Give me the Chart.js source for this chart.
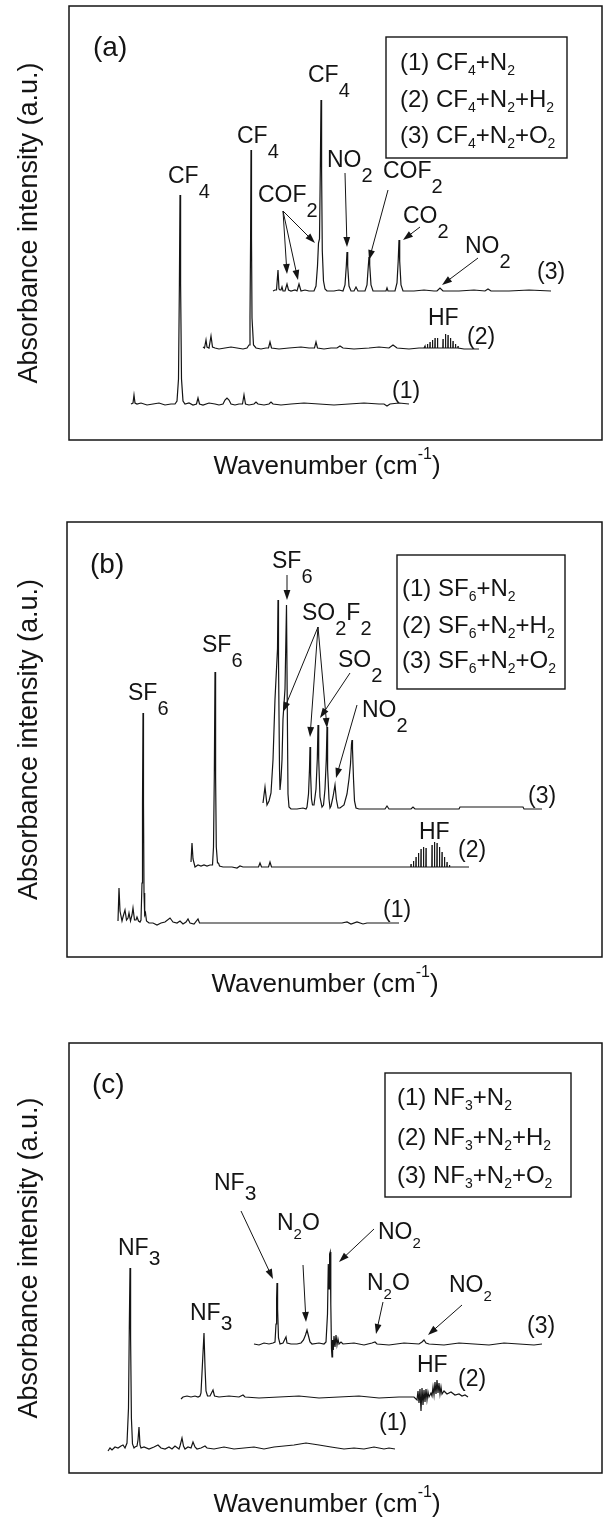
<!DOCTYPE html>
<html><head><meta charset="utf-8">
<script src="https://cdn.jsdelivr.net/npm/chart.js@4.4.1/dist/chart.umd.min.js"></script>
<style>
html,body{margin:0;padding:0;background:#fff;}
#wrap{position:relative;width:610px;height:1528px;background:#fff;}
canvas{position:absolute;left:0;}
</style></head><body>
<div id="wrap">
<canvas id="pa" width="610" height="500" style="top:0px;width:610px;height:500px"></canvas>
<canvas id="pb" width="610" height="510" style="top:500px;width:610px;height:510px"></canvas>
<canvas id="pc" width="610" height="518" style="top:1010px;width:610px;height:518px"></canvas>
</div>
<script>
// ===================== DATA (arbitrary units) =====================
// Panel (a) CF4 : spectra as [wavenumber a.u., absorbance a.u. above own baseline]
const specA1 = [[62,0],[64,1],[65,9],[66,1],[68,0],[72,1],[78,-1],[84,0],[90,1],[96,-1],[102,0],[106,0],[108,3],[109.5,25],[110.4,120],[111,209],[111.6,120],[112.5,25],[114,3],[116,0],[120,1],[124,-1],[127.5,0],[129,6],[130.5,0],[134,-1],[140,1],[146,0],[150,-1],[154,0],[156,4],[158,6],[160,4],[162,0],[166,-1],[170,0],[173.5,0],[175,9],[176.5,0],[180,-1],[185,0],[187,2],[189,0],[195,-1],[200,0],[202,2],[204,0],[212,-1],[222,0],[235,1],[250,0],[265,-1],[280,0],[295,1],[310,0],[315,0],[318,-2],[321,0],[330,1],[340,0]];
const specA2 = [[134,1],[135.5,0],[137,8],[138,1],[140,0],[142,12],[143.5,1],[146,0],[150,-1],[156,0],[162,1],[168,0],[174,-1],[178,0],[180,3],[181,30],[181.6,110],[182,198],[182.5,110],[183,30],[184.5,3],[187,0],[192,-1],[197,0],[199.5,0],[201,6],[202.5,0],[210,-1],[220,0],[232,1],[240,0],[245.5,0],[247,6],[248.5,0],[255,-1],[262,0],[268,0],[271,2],[274,0],[285,-1],[300,0],[310,1],[320,0],[324,3],[328,0],[340,-1],[350,0],[355,0],
 [355.8,0],[356,2],[356.2,0],[358.3,0],[358.5,4],[358.7,0],[360.8,0],[361,6],[361.2,0],[363.3,0],[363.5,8],[363.7,0],[365.8,0],[366,10],[366.2,0],[368.3,0],[368.5,10],[368.7,0],[372,0],
 [373.8,0],[374,9],[374.2,0],[376.3,0],[376.5,14],[376.7,0],[378.8,0],[379,13],[379.2,0],[381.3,0],[381.5,10],[381.7,0],[383.8,0],[384,7],[384.2,0],[386.3,0],[386.5,4],[386.7,0],[388.8,0],[389,2],[389.2,0],[395,-1],[410,-1]];
const specA3 = [[204,0],[206,1],[207.5,1],[209,21],[210,2],[211,1],[212,1],[213,4],[214,0],[216,0],[218,7],[219.5,1],[222,0],[226,1],[228,0],[230,7],[232,0],[236,1],[240,0],[245,0],[247,5],[248.5,25],[249.5,48],[250.5,52],[251.3,120],[252,191],[252.6,120],[253.3,40],[254.5,10],[256,2],[258,0],[265,0],[270,1],[274,0],[276,6],[277.3,25],[278,39],[278.7,25],[280,5],[282,0],[285,0],[287,4],[289,0],[293,0],[296,0],[298,6],[299.3,25],[300,34],[300.7,26],[302,6],[304,0],[310,0],[317,0],[318,3],[319,0],[323,0],[326,0],[328,8],[329.2,30],[330,51],[330.7,30],[332,6],[334,0],[345,0],[355,1],[365,0],[368,0],[371,3],[374,0],[390,0],[405,1],[416,0],[419,2],[422,0],[440,0],[460,1],[482,0]];
const baseA = [36, 92, 149];                 // vertical offsets of traces (1),(2),(3)
const legendA = ['(1) CF_4+N_2', '(2) CF_4+N_2+H_2', '(3) CF_4+N_2+O_2'];

// Panel (b) SF6
const specB1 = [[51,2],[52,35],[53,12],[55,2],[56,6],[58,13],[59.5,3],[61,5],[62,10],[63.5,2],[65,8],[66,15],[67.5,3],[69,3],[70,6],[71.5,2],[73,1],[74,3],[75,40],[75.5,120],[76,210],[76.5,120],[77,30],[77.7,8],[78.5,10],[79.5,2],[82,0],[86,0],[90,-2],[94,0],[98,1],[103,5],[106,1],[110,0],[113,2],[116,-1],[119,1],[121,4],[123,0],[127,-1],[131,4],[132.5,0],[140,0],[160,0],[200,0],[240,0],[275,0],[280,1],[284,-1],[290,1],[296,-1],[300,0],[332,0]];
const specB2 = [[124,5],[125,24],[126,8],[128,0],[131,2],[134,1],[137,2],[140,1],[143,2],[145.5,2],[146.5,20],[147.3,90],[148,195],[148.6,90],[149.3,20],[150.5,4],[151.5,4],[152.5,1],[156,0],[165,0],[170,-1],[173,1],[176,0],[185,0],[191.5,0],[193,4],[194.5,0],[201.5,0],[203,5],[204.5,0],[220,0],[260,0],[300,0],[340,0],
 [343.8,0],[344,3],[344.2,0],[346.3,0],[346.5,6],[346.7,0],[348.8,0],[349,10],[349.2,0],[351.3,0],[351.5,14],[351.7,0],[353.8,0],[354,18],[354.2,0],[356.3,0],[356.5,20],[356.7,0],[358.8,0],[359,19],[359.2,0],[362,0],
 [364.8,0],[365,22],[365.2,0],[367.3,0],[367.5,25],[367.7,0],[369.8,0],[370,24],[370.2,0],[372.3,0],[372.5,20],[372.7,0],[374.8,0],[375,15],[375.2,0],[377.3,0],[377.5,10],[377.7,0],[379.8,0],[380,5],[380.2,0],[382.3,0],[382.5,2],[382.7,0],[402,0]];
const specB3 = [[196,6],[198,22],[200,4],[202,8],[204,16],[206,49],[208,110],[210.5,160],[211,209],[211.5,150],[212.5,40],[213,19],[214,30],[215,49],[216,90],[218,120],[219.5,204],[220.3,100],[221,15],[222,2],[224,0],[230,0],[236,1],[239,0],[240,2],[241.5,15],[242.5,40],[243,62],[243.6,35],[244.5,10],[245.5,4],[247,4],[249,20],[250.3,50],[251,84],[251.7,50],[253,12],[255,2],[256.5,4],[258,20],[259.3,50],[260,82],[260.6,40],[262,10],[263,1],[264,3],[266,12],[268,24],[269.3,10],[271,1],[273,1],[277,4],[280,15],[282,30],[283.5,45],[284.5,65],[285,69],[285.5,60],[286.5,30],[287.5,8],[289,1],[292,0],[300,0],[318,0],[320,3],[322,0],[344,0],[346,2],[348,0],[370,0],[392,0],[393,2],[420,2],[440,2],[456,2],[457,0],[475,0]];
const baseB = [34, 90, 148];
const legendB = ['(1) SF_6+N_2', '(2) SF_6+N_2+H_2', '(3) SF_6+N_2+O_2'];

// Panel (c) NF3
const specC1 = [[39,-3],[41,0],[43,-2],[46,1],[49,0],[52,2],[54,3],[56,0],[58,5],[59.5,40],[60.3,120],[61,180],[61.6,110],[62.4,30],[63.5,4],[65,0],[66,1],[68,2],[69,8],[70,21],[71,3],[72,0],[75,1],[80,-1],[85,1],[89,3],[92,0],[96,-1],[100,1],[103,-1],[106,2],[110,-1],[111,2],[113,10],[114.5,2],[116,-1],[119,1],[122,0],[124,6],[126,1],[128,-1],[132,0],[136,2],[138,0],[145,-1],[155,1],[165,-1],[175,0],[185,1],[195,-1],[205,1],[215,2],[225,3],[237,5],[250,3],[262,1],[275,-1],[285,0],[295,-1],[305,1],[315,-1],[320,0],[326,-1]];
const specC2 = [[112,-2],[114,0],[118,1],[122,0],[126,1],[129,0],[131,1],[132,4],[133.3,30],[135,64],[136,30],[137,6],[138.5,1],[141,1],[144,7],[145.5,1],[150,0],[160,1],[170,0],[174,2],[176,0],[190,-1],[210,0],[230,1],[250,-1],[270,0],[290,1],[310,-1],[330,0],[345,0],[348,-3],[349,6],[350,-6],[351,8],[352,-14],[353,9],[354,-8],[355,7],[356,-5],[357,8],[358,-3],[359,5],[360,0],[362,4],[363,1],[364,10],[365,2],[366,15],[367,3],[368,17],[369,4],[370,14],[371,3],[372,10],[373,3],[375,6],[378,3],[382,5],[386,2],[390,3],[393,1],[396,2],[399,0]];
const specC3 = [[185,0],[190,-1],[195,1],[200,0],[204,1],[206,2],[207,20],[207.6,45],[208,61],[208.6,35],[209.5,6],[211,0],[214,1],[217,7],[218,1],[222,0],[228,0],[232,1],[234.5,4],[236.5,9],[238,14],[239.5,8],[241,2],[243,0],[250,1],[255,0],[257,2],[258.5,30],[259.3,80],[260,55],[260.6,90],[261.2,92],[261.8,40],[262.5,-5],[263,-13],[263.6,4],[264.3,-6],[265,8],[266,-3],[267,9],[268,-1],[269,5],[270,0],[272,2],[274,0],[285,1],[295,-1],[303,1],[306,2],[308,0],[320,-1],[335,1],[350,0],[353,2],[355,4],[357,1],[360,0],[375,-1],[390,1],[405,0],[420,-1],[435,1],[450,0],[465,-1],[473,0]];
const baseC = [25, 76, 129];
const legendC = ['(1) NF_3+N_2', '(2) NF_3+N_2+H_2', '(3) NF_3+N_2+O_2'];

const xTitle = 'Wavenumber (cm';
const xTitleSup = '-1';
const yTitle = 'Absorbance intensity (a.u.)';

// ===================== LAYOUT / ANNOTATIONS =====================
const FONT = '"Liberation Sans", Arial, Helvetica, sans-serif';
const INK = '#141414';

const panels = [
 { id:'pa', tag:'(a)', canvasTop:0, canvasH:500, box:{left:69,right:602,top:6,bottom:440}, xTitleDy:34,
   spectra:[specA1,specA2,specA3], base:baseA, legend:legendA,
   tagPos:[24,384], legendBox:[317,403,498,282], legendTextX:331, legendRows:[370,333,297],
   labels:[
     {t:'CF_4',x:99,y:257},{t:'CF_4',x:168,y:297},{t:'CF_4',x:239,y:358},
     {t:'COF_2',x:189,y:238},{t:'NO_2',x:258,y:273},{t:'COF_2',x:314,y:262},
     {t:'CO_2',x:334,y:217},{t:'NO_2',x:396,y:187},{t:'HF',x:359,y:115},
     {t:'(1)',x:323,y:42},{t:'(2)',x:398,y:96},{t:'(3)',x:468,y:161}],
   arrows:[[214,229,218,166],[214,229,229,160],[214,229,246,197],[276,267,278,193],
     [319,250,300,180],[351,213,334,200],[409,182,373,155]] },
 { id:'pb', tag:'(b)', canvasTop:500, canvasH:510, box:{left:67,right:602,top:522,bottom:957}, xTitleDy:35,
   spectra:[specB1,specB2,specB3], base:baseB, legend:legendB,
   tagPos:[23,384], legendBox:[330,402,498,268], legendTextX:335, legendRows:[361,324,289],
   labels:[
     {t:'SF_6',x:61,y:257},{t:'SF_6',x:135,y:305},{t:'SF_6',x:205,y:389},
     {t:'SO_2F_2',x:235,y:337},{t:'SO_2',x:271,y:290},{t:'NO_2',x:295,y:240},
     {t:'HF',x:352,y:118},{t:'(1)',x:316,y:40},{t:'(2)',x:391,y:100},{t:'(3)',x:461,y:154}],
   arrows:[[220,382,220,357],[251,330,216,245],[251,330,243,220],[251,330,260,229],
     [283,284,253,239],[290,252,269,179]] },
 { id:'pc', tag:'(c)', canvasTop:1010, canvasH:518, box:{left:69,right:602,top:1043,bottom:1473}, xTitleDy:39,
   spectra:[specC1,specC2,specC3], base:baseC, legend:legendC,
   tagPos:[23,380], legendBox:[316,400,502,276], legendTextX:328, legendRows:[368,328,290],
   labels:[
     {t:'NF_3',x:49,y:218,s:'c'},{t:'NF_3',x:121,y:153,s:'c'},{t:'NF_3',x:145,y:283,s:'c'},
     {t:'N_2O',x:208,y:243,s:'s'},{t:'NO_2',x:309,y:234,s:'s'},{t:'N_2O',x:298,y:183,s:'s'},
     {t:'NO_2',x:380,y:181,s:'s'},{t:'HF',x:348,y:101},
     {t:'(1)',x:310,y:43},{t:'(2)',x:389,y:87},{t:'(3)',x:458,y:140}],
   arrows:[[172,262,204,194],[234,208,237,151],[305,244,270,211],[314,171,307,139],[393,168,359,138]] }
];

const subStyles = { d:{main:23,sub:20,drop:15}, c:{main:23,sub:21,drop:10}, s:{main:23,sub:15,drop:9} };

function drawRich(ctx, str, x, y, main, sub, drop) {
  let cx = x, run = '';
  const flush = () => { if (run) { ctx.font = main + 'px ' + FONT; ctx.fillText(run, cx, y); cx += ctx.measureText(run).width; run = ''; } };
  for (let i = 0; i < str.length; i++) {
    const ch = str[i];
    if (ch === '_') { flush(); i++; ctx.font = sub + 'px ' + FONT; ctx.fillText(str[i], cx, y + drop); cx += ctx.measureText(str[i]).width; }
    else run += ch;
  }
  flush();
  return cx - x;
}

function drawArrow(ctx, x1, y1, x2, y2) {
  const a = Math.atan2(y2 - y1, x2 - x1), L = 10, W = 3.4;
  ctx.beginPath(); ctx.moveTo(x1, y1); ctx.lineTo(x2 - (L - 2) * Math.cos(a), y2 - (L - 2) * Math.sin(a)); ctx.stroke();
  ctx.beginPath(); ctx.moveTo(x2, y2);
  ctx.lineTo(x2 - L * Math.cos(a) + W * Math.sin(a), y2 - L * Math.sin(a) - W * Math.cos(a));
  ctx.lineTo(x2 - L * Math.cos(a) - W * Math.sin(a), y2 - L * Math.sin(a) + W * Math.cos(a));
  ctx.closePath(); ctx.fill();
}

const decor = {
  id: 'decor',
  afterDatasetsDraw(chart) {
    const P = chart.options.plugins.decor.panel;
    const ctx = chart.ctx, xs = chart.scales.x, ys = chart.scales.y, ca = chart.chartArea;
    const px = v => xs.getPixelForValue(v), py = v => ys.getPixelForValue(v);
    ctx.save();
    ctx.fillStyle = INK; ctx.strokeStyle = INK; ctx.textBaseline = 'alphabetic'; ctx.textAlign = 'left';
    // frame
    ctx.lineWidth = 1.5; ctx.strokeRect(ca.left, ca.top, ca.right - ca.left, ca.bottom - ca.top);
    // panel tag
    ctx.font = '28px ' + FONT; ctx.fillText(P.tag, px(P.tagPos[0]), py(P.tagPos[1]));
    // legend
    const lb = P.legendBox;
    ctx.lineWidth = 1.4; ctx.strokeRect(px(lb[0]), py(lb[1]), px(lb[2]) - px(lb[0]), py(lb[3]) - py(lb[1]));
    P.legend.forEach((s, i) => drawRich(ctx, s, px(P.legendTextX), py(P.legendRows[i]), 24, 14, 5));
    // peak labels
    P.labels.forEach(l => { const st = subStyles[l.s || 'd']; drawRich(ctx, l.t, px(l.x), py(l.y), st.main, st.sub, st.drop); });
    // arrows
    ctx.lineWidth = 1;
    P.arrows.forEach(a => drawArrow(ctx, px(a[0]), py(a[1]), px(a[2]), py(a[3])));
    // axis titles
    const XF = 26;
    ctx.font = XF + 'px ' + FONT;
    const w1 = ctx.measureText(xTitle).width;
    ctx.font = '16px ' + FONT; const w2 = ctx.measureText(xTitleSup).width;
    ctx.font = XF + 'px ' + FONT; const w3 = ctx.measureText(')').width;
    let tx = ca.left + 258 - (w1 + w2 + w3) / 2, ty = ca.bottom + P.xTitleDy;
    ctx.fillText(xTitle, tx, ty); tx += w1;
    ctx.font = '16px ' + FONT; ctx.fillText(xTitleSup, tx, ty - 15); tx += w2;
    ctx.font = XF + 'px ' + FONT; ctx.fillText(')', tx, ty);
    ctx.save();
    ctx.translate(37, (ca.top + ca.bottom) / 2); ctx.rotate(-Math.PI / 2);
    ctx.textAlign = 'center'; ctx.font = '27px ' + FONT; ctx.fillText(yTitle, 0, 0);
    ctx.restore();
    ctx.restore();
  }
};

panels.forEach(P => {
  const b = P.box;
  const W = b.right - b.left, H = b.bottom - b.top;
  const datasets = P.spectra.map((sp, i) => ({
    data: sp.map(p => ({ x: p[0], y: p[1] + P.base[i] })),
    borderColor: INK, borderWidth: 1.2, pointRadius: 0, tension: 0, fill: false
  }));
  new Chart(document.getElementById(P.id), {
    type: 'line',
    data: { datasets },
    options: {
      responsive: false, animation: false, devicePixelRatio: 1,
      layout: { padding: { left: b.left, right: 610 - b.right, top: b.top - P.canvasTop, bottom: P.canvasTop + P.canvasH - b.bottom } },
      scales: {
        x: { type: 'linear', min: 0, max: W, display: false },
        y: { type: 'linear', min: 0, max: H, display: false }
      },
      plugins: { legend: { display: false }, tooltip: { enabled: false }, decor: { panel: P } }
    },
    plugins: [decor]
  });
});
</script>
</body></html>
